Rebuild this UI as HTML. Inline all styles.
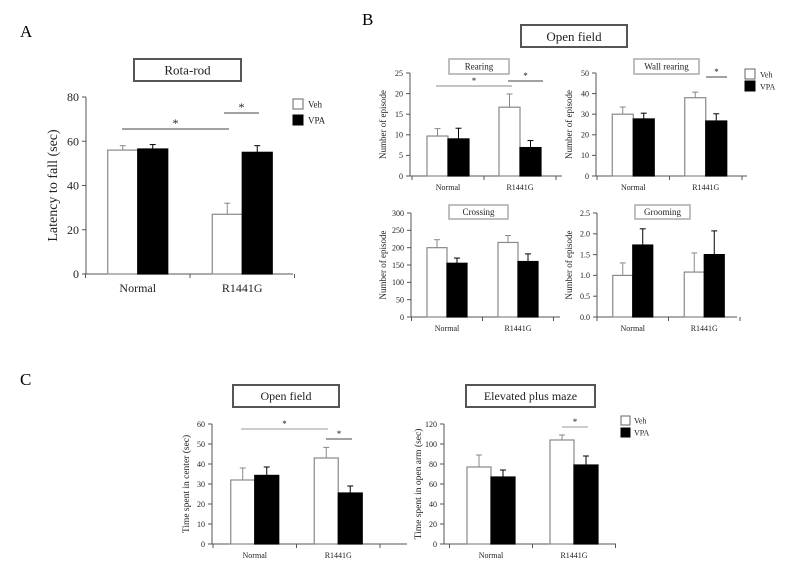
<!DOCTYPE html>
<html><head><meta charset="utf-8">
<style>
body{margin:0;background:#fff;}
svg{display:block;font-family:"Liberation Serif",serif;}
</style></head>
<body>
<svg id="fig" width="792" height="568" viewBox="0 0 792 568" xmlns="http://www.w3.org/2000/svg">
<text x="20" y="37" font-size="17">A</text>
<text x="362" y="25" font-size="17">B</text>
<text x="20" y="385" font-size="17">C</text>
</svg>
<script>
const categories = ["Normal", "R1441G"];
// Panel A: Rota-rod
const rotaVeh = [56, 27], rotaVehErr = [2, 5];
const rotaVpa = [56.5, 55], rotaVpaErr = [2, 3];
const rotaTicks = [0, 20, 40, 60, 80];
// Panel B: Rearing
const rearVeh = [9.7, 16.7], rearVehErr = [1.8, 3.2];
const rearVpa = [9, 6.9], rearVpaErr = [2.6, 1.7];
const rearTicks = [0, 5, 10, 15, 20, 25];
// Wall rearing
const wallVeh = [30, 38], wallVehErr = [3.5, 2.7];
const wallVpa = [27.7, 26.7], wallVpaErr = [2.8, 3.5];
const wallTicks = [0, 10, 20, 30, 40, 50];
// Crossing
const crossVeh = [200, 215], crossVehErr = [23, 20];
const crossVpa = [155, 160], crossVpaErr = [15, 22];
const crossTicks = [0, 50, 100, 150, 200, 250, 300];
// Grooming
const groomVeh = [1.0, 1.08], groomVehErr = [0.3, 0.46];
const groomVpa = [1.73, 1.5], groomVpaErr = [0.39, 0.57];
const groomTicks = ["0.0", "0.5", "1.0", "1.5", "2.0", "2.5"];
// Panel C: Open field center time
const ofVeh = [32, 43], ofVehErr = [6, 5.3];
const ofVpa = [34.3, 25.5], ofVpaErr = [4.2, 3.5];
const ofTicks = [0, 10, 20, 30, 40, 50, 60];
// Elevated plus maze
const epmVeh = [77, 104], epmVehErr = [12, 5];
const epmVpa = [67, 79], epmVpaErr = [7, 9];
const epmTicks = [0, 20, 40, 60, 80, 100, 120];

const svg = document.getElementById('fig');
const NS = "http://www.w3.org/2000/svg";
function mk(tag, attrs, parent, text){
  const e = document.createElementNS(NS, tag);
  for (const k in attrs) e.setAttribute(k, attrs[k]);
  if (text !== undefined) e.textContent = text;
  (parent || svg).appendChild(e);
  return e;
}

function drawChart(c){
  const g = mk('g', {});
  
  
  const tickVals = c.ticks.map(Number);
  const max = tickVals[tickVals.length - 1];
  const y = v => c.yBase - (v / max) * (c.yBase - c.yTop);
  const xc = i => c.x0 + (i + 0.5) * c.band;
  const ya = mk('line', {x1: c.axX, y1: c.yBase, x2: c.axX, y2: c.yTop, stroke: '#555', 'stroke-width': 1}, g);
  
  
  c.ticks.forEach((t, i) => {
    const yy = y(tickVals[i]);
    mk('line', {x1: c.axX - 4, y1: yy, x2: c.axX, y2: yy, stroke: '#555'}, g);
    const tl = mk('text', {x: c.axX - 7, y: yy + c.fs * 0.35, 'font-size': c.fs, 'text-anchor': 'end', fill: '#222'}, g, t);
    
    
  });
  const xa = mk('line', {x1: c.axX, y1: c.yBase, x2: c.axEnd, y2: c.yBase, stroke: '#555'}, g);
  
  
  [0, 1, 2].forEach(k => {
    const xx = c.x0 + k * c.band;
    mk('line', {x1: xx, y1: c.yBase, x2: xx, y2: c.yBase + 4, stroke: '#555'}, g);
  });
  categories.forEach((cat, i) => {
    const tl = mk('text', {x: xc(i), y: c.yBase + c.cfs + 6, 'font-size': c.cfs, 'text-anchor': 'middle', fill: '#222'}, g, cat);
    
    
  });
  const series = [[c.veh, c.vehErr, '#fff', '#888', 'veh'], [c.vpa, c.vpaErr, '#000', '#000', 'vpa']];
  series.forEach((s, si) => {
    s[0].forEach((v, i) => {
      const bx = xc(i) - c.bw + si * c.bw;
      const top = y(v), eTop = y(v + s[1][i]);
      const cx = bx + c.bw / 2;
      mk('line', {x1: cx, y1: top, x2: cx, y2: eTop, stroke: s[3], 'stroke-width': 1}, g);
      mk('line', {x1: cx - 3, y1: eTop, x2: cx + 3, y2: eTop, stroke: s[3], 'stroke-width': 1}, g);
      const r = mk('rect', {x: bx, y: top, width: c.bw, height: c.yBase - top, fill: s[2], stroke: s[3], 'stroke-width': 1.2}, g);
      
      
    });
  });
  const yt = mk('text', {x: 0, y: 0, 'font-size': c.yfs, 'text-anchor': 'middle', fill: '#222',
    transform: 'translate(' + c.ytX + ',' + ((c.yBase + c.yTop) / 2) + ') rotate(-90)'}, g, c.ytitle);
  
  
  const tb = c.tbox;
  const tr = mk('rect', {x: tb[0], y: tb[1], width: tb[2] - tb[0], height: tb[3] - tb[1], fill: '#fff', stroke: tb[5], 'stroke-width': tb[6]}, g);
  
  
  const tt = mk('text', {x: (tb[0] + tb[2]) / 2, y: (tb[1] + tb[3]) / 2 + tb[4] * 0.35, 'font-size': tb[4], 'text-anchor': 'middle', fill: '#222'}, g, c.title);
  
  
  (c.sig || []).forEach(s => {
    const l = mk('line', {x1: s[0], y1: s[2], x2: s[1], y2: s[2], stroke: s[4] || '#444'}, g);
    
    
    const st = mk('text', {x: (s[0] + s[1]) / 2 + (s[5] || 0), y: s[2] - 2, 'font-size': s[3], 'text-anchor': 'middle', fill: '#222'}, g, '*');
    
    
  });
}

function legend(x, y1, y2, bw, bh, fs, tx){
  const g = mk('g', {});
  
  
  const a = mk('rect', {x: x, y: y1, width: bw, height: bh, fill: '#fff', stroke: '#666'}, g);
  
  
  const at = mk('text', {x: tx, y: y1 + bh * 0.85, 'font-size': fs, fill: '#222'}, g, 'Veh');
  
  
  const b = mk('rect', {x: x, y: y2, width: bw, height: bh, fill: '#000', stroke: '#000'}, g);
  
  
  const bt = mk('text', {x: tx, y: y2 + bh * 0.85, 'font-size': fs, fill: '#222'}, g, 'VPA');
  
  
}

drawChart({name:'rota-rod-chart', title:'Rota-rod', ytitle:'Latency to fall (sec)', veh:rotaVeh, vehErr:rotaVehErr, vpa:rotaVpa, vpaErr:rotaVpaErr,
  ticks:rotaTicks, axX:86, axEnd:293, x0:85.5, band:104.5, bw:30, yBase:274, yTop:97, fs:12, cfs:12, yfs:14, ytX:57,
  tbox:[134,59,241,81,13,'#555',2], sig:[[122,229,129,12],[224,259,113,12]]});
legend(293,99,115,10,10,9,308);

const openBox = mk('rect', {x:521, y:25, width:106, height:22, fill:'#fff', stroke:'#555', 'stroke-width':2});


const openT = mk('text', {x:574, y:41, 'font-size':13, 'text-anchor':'middle', fill:'#222'}, svg, 'Open field');



drawChart({name:'rearing-chart', title:'Rearing', ytitle:'Number of episode', veh:rearVeh, vehErr:rearVehErr, vpa:rearVpa, vpaErr:rearVpaErr,
  ticks:rearTicks, axX:410, axEnd:562, x0:412, band:72, bw:21, yBase:176, yTop:73, fs:8, cfs:8, yfs:9, ytX:386,
  tbox:[449,59,509,74,9,'#aaa',1.5], sig:[[436,512,86,9,'#888'],[508,543,81,9]]});
drawChart({name:'wall-rearing-chart', title:'Wall rearing', ytitle:'Number of episode', veh:wallVeh, vehErr:wallVehErr, vpa:wallVpa, vpaErr:wallVpaErr,
  ticks:wallTicks, axX:596, axEnd:747, x0:597, band:72.5, bw:21, yBase:176, yTop:73, fs:8, cfs:8, yfs:9, ytX:572,
  tbox:[634,59,699,74,9,'#aaa',1.5], sig:[[706,727,77,9]]});
legend(745,69,81,10,10,8,760);
drawChart({name:'crossing-chart', title:'Crossing', ytitle:'Number of episode', veh:crossVeh, vehErr:crossVehErr, vpa:crossVpa, vpaErr:crossVpaErr,
  ticks:crossTicks, axX:411, axEnd:560, x0:411.5, band:71, bw:20, yBase:317, yTop:213, fs:8, cfs:8, yfs:9, ytX:386,
  tbox:[449,205,508,219,9,'#aaa',1.5]});
drawChart({name:'grooming-chart', title:'Grooming', ytitle:'Number of episode', veh:groomVeh, vehErr:groomVehErr, vpa:groomVpa, vpaErr:groomVpaErr,
  ticks:groomTicks, axX:597, axEnd:737, x0:597, band:71.5, bw:20, yBase:317, yTop:213, fs:8, cfs:8, yfs:9, ytX:572,
  tbox:[635,205,690,219,9,'#aaa',1.5]});

drawChart({name:'open-field-center-chart', title:'Open field', ytitle:'Time spent in center (sec)', veh:ofVeh, vehErr:ofVehErr, vpa:ofVpa, vpaErr:ofVpaErr,
  ticks:ofTicks, axX:212, axEnd:407, x0:213, band:83.5, bw:24, yBase:544, yTop:424, fs:8, cfs:8, yfs:9.5, ytX:189,
  tbox:[233,385,339,407,12,'#555',2], sig:[[241,328,429,9,'#999'],[326,352,439,9]]});
drawChart({name:'elevated-plus-maze-chart', title:'Elevated plus maze', ytitle:'Time spent in open arm (sec)', veh:epmVeh, vehErr:epmVehErr, vpa:epmVpa, vpaErr:epmVpaErr,
  ticks:epmTicks, axX:444, axEnd:616, x0:449.5, band:83, bw:24, yBase:544, yTop:424, fs:8, cfs:8, yfs:9.5, ytX:421,
  tbox:[466,385,595,407,12,'#555',2], sig:[[562,588,427,9,'#999']]});
legend(621,416,428,9,9,8,634);
</script>
</body></html>
